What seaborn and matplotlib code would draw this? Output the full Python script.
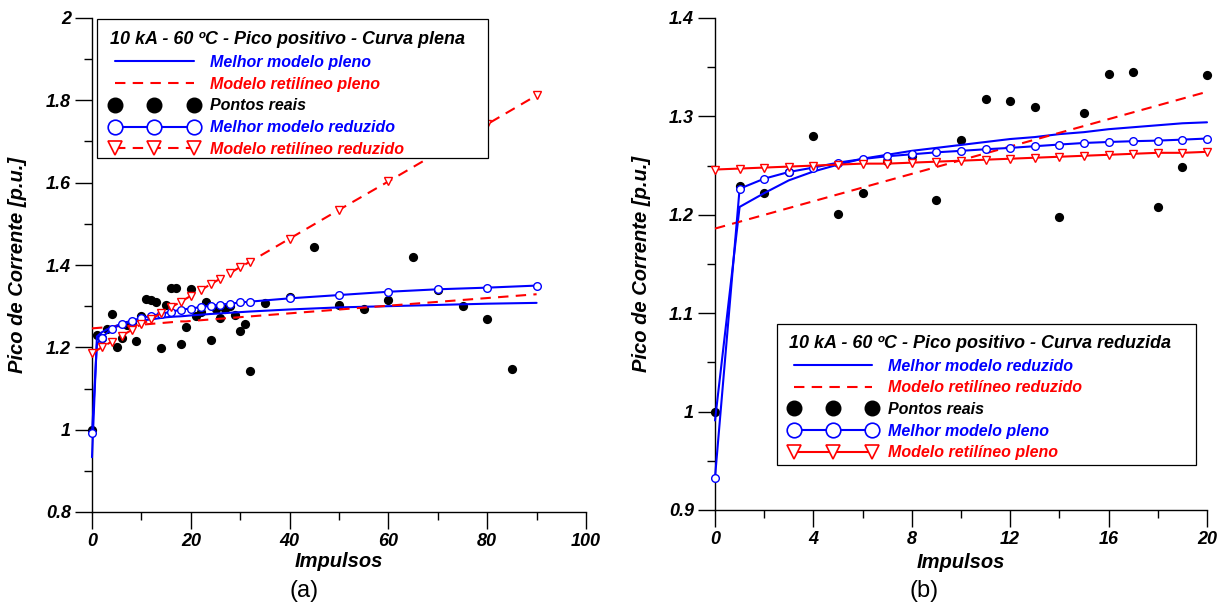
import matplotlib
matplotlib.use("Agg")
import matplotlib.pyplot as plt
import seaborn as sns
from matplotlib.lines import Line2D
from matplotlib.patches import Rectangle
from matplotlib.ticker import MultipleLocator, FuncFormatter

sns.set_theme(style="ticks")
plt.rcParams["font.family"] = ["Liberation Sans", "DejaVu Sans"]
plt.rcParams["mathtext.default"] = "regular"

# Measured current peaks (p.u.) per impulse number
impulsos = list(range(0, 33)) + [35, 40, 45, 50, 55, 60, 65, 70, 75, 80, 85]
pico_real = [1.000, 1.229, 1.222, 1.244, 1.280, 1.201, 1.222, 1.255, 1.260, 1.215,
             1.276, 1.318, 1.316, 1.310, 1.198, 1.303, 1.343, 1.345, 1.208, 1.249,
             1.342, 1.277, 1.285, 1.309, 1.218, 1.292, 1.271, 1.292, 1.300, 1.278,
             1.239, 1.256, 1.142,
             1.307, 1.322, 1.444, 1.303, 1.294, 1.314, 1.419, 1.339, 1.300, 1.268, 1.148]

# Best model fitted on the full curve
x_pleno = list(range(0, 21)) + [24, 28, 32, 40, 50, 60, 70, 80, 90]
melhor_pleno = [0.933, 1.2265, 1.2367, 1.2435, 1.248, 1.253, 1.2567, 1.2595, 1.2615, 1.2635,
                1.265, 1.2666, 1.268, 1.2697, 1.2714, 1.273, 1.274, 1.2748, 1.2754, 1.2764,
                1.2775, 1.281, 1.284, 1.287, 1.292, 1.297, 1.300, 1.303, 1.306, 1.308]

# Best model fitted on the reduced curve
x_reduzido = list(range(0, 21)) + [22, 24, 26, 28, 30, 32, 40, 50, 60, 70, 80, 90]
melhor_reduzido = [0.991, 1.208, 1.222, 1.235, 1.244, 1.251, 1.257, 1.261, 1.265, 1.268,
                   1.271, 1.274, 1.277, 1.279, 1.282, 1.284, 1.287, 1.289, 1.291, 1.293,
                   1.294, 1.298, 1.301, 1.304, 1.306, 1.309, 1.311,
                   1.319, 1.327, 1.335, 1.341, 1.345, 1.350]

# Straight-line models
x_ret_pleno = list(range(0, 21)) + [90]
ret_pleno = [1.246, 1.247, 1.248, 1.249, 1.250, 1.251, 1.252, 1.252, 1.253, 1.254,
             1.255, 1.256, 1.257, 1.258, 1.259, 1.260, 1.261, 1.262, 1.263, 1.263,
             1.264, 1.329]
ret_reduzido = [1.186, 1.193, 1.200, 1.207, 1.214, 1.221, 1.228, 1.235, 1.242, 1.249,
                1.256, 1.262, 1.269, 1.276, 1.283, 1.290, 1.297, 1.304, 1.311, 1.318,
                1.325, 1.339, 1.353, 1.367, 1.381, 1.395, 1.408,
                1.464, 1.534, 1.603, 1.673, 1.742, 1.812]

BLUE, RED, BLACK = "#0000ff", "#ff0000", "#000000"
DASH = (0, (5, 3.5))
LW = 1.5
FONT_BI = dict(fontweight="bold", fontstyle="italic")

fig = plt.figure(figsize=(12.29, 6.12), dpi=100)
ax_a = fig.add_axes([92 / 1229, 1 - 512 / 612, 494 / 1229, 494 / 612])
ax_b = fig.add_axes([715 / 1229, 1 - 510 / 612, 492 / 1229, 492 / 612])


def subset(xs, ys, xmax):
    pairs = [(x, y) for x, y in zip(xs, ys) if x <= xmax]
    return [p[0] for p in pairs], [p[1] for p in pairs]


def line(ax, xs, ys, color, ls="-", marker=None, every=None, z=3, ms=5.5):
    kw = dict(x=xs, y=ys, ax=ax, color=color, linewidth=LW, linestyle=ls,
              estimator=None, errorbar=None, sort=False, legend=False,
              clip_on=False, zorder=z)
    if marker is not None:
        kw.update(marker=marker, markersize=ms, markerfacecolor="white",
                  markeredgecolor=color, markeredgewidth=1.0,
                  markevery=every)
    sns.lineplot(**kw)


def dots(ax, xs, ys):
    sns.scatterplot(x=xs, y=ys, ax=ax, color=BLACK, s=44, linewidth=0,
                    clip_on=False, zorder=2, legend=False)


def style_axes(ax, xmax, xmaj, xmin_, ylo, yhi, ymaj, ymin_):
    ax.set_xlim(0, xmax)
    ax.set_ylim(ylo, yhi)
    sns.despine(ax=ax)
    for s in ("left", "bottom"):
        ax.spines[s].set_linewidth(1.0)
        ax.spines[s].set_color(BLACK)
    ax.xaxis.set_major_locator(MultipleLocator(xmaj))
    ax.xaxis.set_minor_locator(MultipleLocator(xmin_))
    ax.yaxis.set_major_locator(MultipleLocator(ymaj))
    ax.yaxis.set_minor_locator(MultipleLocator(ymin_))
    fmt = FuncFormatter(lambda v, p: f"{v:g}")
    ax.xaxis.set_major_formatter(fmt)
    ax.yaxis.set_major_formatter(fmt)
    ax.tick_params(which="major", direction="out", length=12, width=1.0,
                   color=BLACK, pad=3, labelsize=13)
    ax.tick_params(which="minor", direction="out", length=6, width=1.0, color=BLACK)
    for t in ax.get_xticklabels() + ax.get_yticklabels():
        t.set_fontweight("bold")
        t.set_fontstyle("italic")
        t.set_color(BLACK)
    ax.set_xlabel("Impulsos", fontsize=14.5, color=BLACK, va="center", **FONT_BI)
    ax.set_ylabel("Pico de Corrente [p.u.]", fontsize=14.5, color=BLACK, va="center", **FONT_BI)
    ax.set_facecolor("white")


def make_legend(ax, title, entries, anchor, frame):
    handles, labels, colors = [], [], []
    for label, color, ls, marker in entries:
        if marker == "dot":
            h = Line2D([], [], linestyle="none", marker="o", markersize=10.5,
                       markerfacecolor=BLACK, markeredgecolor=BLACK)
        elif marker is None:
            h = Line2D([], [], color=color, linewidth=LW, linestyle=ls)
        else:
            h = Line2D([], [], color=color, linewidth=LW, linestyle=ls, marker=marker,
                       markersize=10.5, markerfacecolor="white",
                       markeredgecolor=color, markeredgewidth=1.2)
        handles.append(h)
        labels.append(label)
        colors.append(color)
    # framed white box behind the legend entries
    x0, y0, x1, y1 = frame
    box = Rectangle((x0, y0), x1 - x0, y1 - y0, transform=ax.transAxes,
                    facecolor="white", edgecolor=BLACK, linewidth=0.9,
                    clip_on=False, zorder=9)
    ax.add_patch(box)
    leg = ax.legend(handles, labels, title=title, loc="upper left",
                    bbox_to_anchor=anchor, borderaxespad=0, numpoints=3,
                    prop=dict(size=11.5, weight="bold", style="italic"),
                    title_fontproperties=dict(size=13, weight="bold", style="italic"),
                    alignment="left", handlelength=5.5, handletextpad=0.7,
                    labelspacing=0.42, borderpad=0, frameon=False)
    for t, c in zip(leg.get_texts(), colors):
        t.set_color(c)
    leg.get_title().set_color(BLACK)
    leg.set_zorder(10)


# (a) full curve, 0..90 impulses
dots(ax_a, impulsos, pico_real)
line(ax_a, x_pleno, melhor_pleno, BLUE, z=3)
line(ax_a, x_ret_pleno, ret_pleno, RED, ls=DASH, z=3)
even_red = [i for i, v in enumerate(x_reduzido) if v % 2 == 0]
line(ax_a, x_reduzido, melhor_reduzido, BLUE, marker="o", every=even_red, z=4)
line(ax_a, x_reduzido, ret_reduzido, RED, ls=DASH, marker="v", every=even_red, z=4)
style_axes(ax_a, 100, 20, 10, 0.8, 2.0, 0.2, 0.1)
ax_a.xaxis.set_label_coords(0.5, -0.101)
ax_a.yaxis.set_label_coords(-0.150, 0.5)
make_legend(ax_a, "10 kA - 60 ºC - Pico positivo - Curva plena",
            [("Melhor modelo pleno", BLUE, "-", None),
             ("Modelo retilíneo pleno", RED, DASH, None),
             ("Pontos reais", BLACK, "none", "dot"),
             ("Melhor modelo reduzido", BLUE, "-", "o"),
             ("Modelo retilíneo reduzido", RED, DASH, "v")],
            anchor=(0.0374, 0.9730),
            frame=(0.0107, 0.7166, 0.8016, 0.9974))

# (b) reduced curve, first 20 impulses
xb, yb = subset(impulsos, pico_real, 20)
dots(ax_b, xb, yb)
xr, yr = subset(x_reduzido, melhor_reduzido, 20)
line(ax_b, xr, yr, BLUE, z=3)
xr2, yr2 = subset(x_reduzido, ret_reduzido, 20)
line(ax_b, [xr2[0], xr2[-1]], [yr2[0], yr2[-1]], RED, ls=DASH, z=3)
xp, yp = subset(x_pleno, melhor_pleno, 20)
line(ax_b, xp, yp, BLUE, marker="o", every=1, z=4)
xq, yq = subset(x_ret_pleno, ret_pleno, 20)
line(ax_b, xq, yq, RED, marker="v", every=1, z=4)
style_axes(ax_b, 20, 4, 2, 0.9, 1.4, 0.1, 0.05)
ax_b.xaxis.set_label_coords(0.5, -0.106)
ax_b.yaxis.set_label_coords(-0.150, 0.5)
make_legend(ax_b, "10 kA - 60 ºC - Pico positivo - Curva reduzida",
            [("Melhor modelo reduzido", BLUE, "-", None),
             ("Modelo retilíneo reduzido", RED, DASH, None),
             ("Pontos reais", BLACK, "none", "dot"),
             ("Melhor modelo pleno", BLUE, "-", "o"),
             ("Modelo retilíneo pleno", RED, "-", "v")],
            anchor=(0.1503, 0.3560),
            frame=(0.1254, 0.0921, 0.9770, 0.3774))

fig.text(304 / 1229, 1 - 591 / 612, "(a)", fontsize=17, ha="center", va="center", color=BLACK)
fig.text(924 / 1229, 1 - 591 / 612, "(b)", fontsize=17, ha="center", va="center", color=BLACK)

fig.savefig("out.png", dpi=100, facecolor="white")
